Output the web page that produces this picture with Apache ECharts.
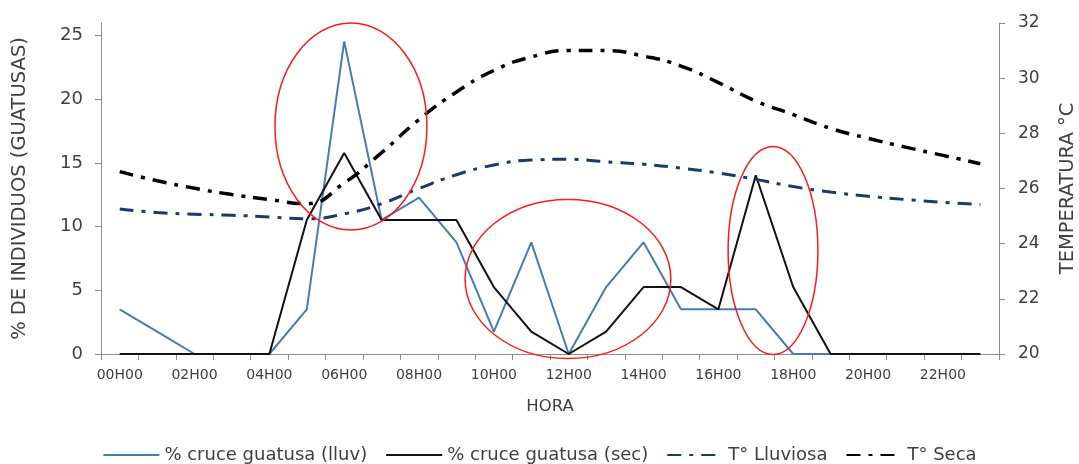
<!DOCTYPE html>
<html><head><meta charset="utf-8">
<script src="https://cdn.jsdelivr.net/npm/echarts@6/dist/echarts.min.js"></script>
<style>html,body{margin:0;padding:0;background:#fff}#c{width:1079px;height:464px}</style>
</head><body><div id="c"></div>
<script>
// ---- data ----
const hours = ['00H00','01H00','02H00','03H00','04H00','05H00','06H00','07H00','08H00','09H00','10H00','11H00',
               '12H00','13H00','14H00','15H00','16H00','17H00','18H00','19H00','20H00','21H00','22H00','23H00'];
const cruceLluv = [3.51,1.75,0,0,0,3.51,24.56,10.53,12.28,8.77,1.75,8.77,0,5.26,8.77,3.51,3.51,3.51,0,0,0,0,0,0];
const cruceSec  = [0,0,0,0,0,10.53,15.79,10.53,10.53,10.53,5.26,1.75,0,1.75,5.26,5.26,3.51,14.04,5.26,0,0,0,0,0];
const tLluviosa = [25.26,25.13,25.07,25.03,24.97,24.9,25.08,25.45,26.0,26.5,26.85,27.03,27.06,26.97,26.88,26.74,26.56,26.33,26.07,25.87,25.72,25.6,25.5,25.42];
const tSeca     = [26.61,26.28,26.01,25.78,25.6,25.45,26.2,27.3,28.5,29.5,30.28,30.77,31.0,31.0,30.8,30.44,29.84,29.17,28.68,28.18,27.82,27.5,27.2,26.9];
const leftTicks = [0,5,10,15,20,25];
const seriesNames = ['% cruce guatusa (lluv)','% cruce guatusa (sec)','T° Lluviosa','T° Seca'];
// annotation ellipses in data units: [category index, left-axis value, radius in categories, radius in %]
const highlights = [[6.18,17.87,2.03,8.13],[11.98,5.89,2.75,6.25],[17.46,8.13,1.2,8.17]];

const FONT = 'DejaVu Sans';
const TXT = '#404040';
const AX = '#8c8c8c';
const dashDot = [14, 8, 4, 8];

const chart = echarts.init(document.getElementById('c'), null, {renderer:'canvas'});
chart.setOption({
  animation: false,
  backgroundColor: '#fff',
  grid: {left: 101, right: 80, top: 23, bottom: 110, outerBoundsMode: 'none', containLabel: false},
  legend: {
    data: seriesNames, left: 'center', top: 441, itemWidth: 56, itemHeight: 14, itemGap: 18,
    itemStyle: {opacity: 0, borderWidth: 0},
    textStyle: {fontFamily: FONT, fontSize: 18, color: TXT}
  },
  xAxis: {
    type: 'category', data: hours, boundaryGap: true,
    axisLine: {show: true, lineStyle: {color: AX, width: 1}},
    axisTick: {show: true, interval: 0, length: 6, lineStyle: {color: AX}},
    axisLabel: {interval: 1, fontFamily: FONT, fontSize: 14, color: TXT, margin: 14},
    splitLine: {show: false},
    name: 'HORA', nameLocation: 'middle', nameGap: 44,
    nameTextStyle: {fontFamily: FONT, fontSize: 16.5, color: TXT}
  },
  yAxis: [{
    type: 'value', min: 0, max: 26, interval: 5, position: 'left',
    axisLine: {show: true, lineStyle: {color: AX, width: 1}},
    axisTick: {show: true, length: 6, customValues: leftTicks, lineStyle: {color: AX}},
    axisLabel: {customValues: leftTicks, fontFamily: FONT, fontSize: 18, color: TXT, margin: 18},
    splitLine: {show: false},
    name: '% DE INDIVIDUOS (GUATUSAS)', nameLocation: 'middle', nameRotate: 90, nameGap: 71,
    nameTextStyle: {fontFamily: FONT, fontSize: 19.5, color: TXT}
  }, {
    type: 'value', min: 20, max: 32, interval: 2, position: 'right',
    axisLine: {show: true, lineStyle: {color: AX, width: 1}},
    axisTick: {show: true, length: 6, lineStyle: {color: AX}},
    axisLabel: {fontFamily: FONT, fontSize: 17, color: TXT, margin: 19},
    splitLine: {show: false},
    name: 'TEMPERATURA °C', nameLocation: 'middle', nameRotate: 90, nameGap: 59,
    nameTextStyle: {fontFamily: FONT, fontSize: 19.5, color: TXT}
  }],
  series: [
    {name: seriesNames[0], type: 'line', yAxisIndex: 0, data: cruceLluv, symbol: 'none', z: 2,
     lineStyle: {color: '#4a7ab4', width: 2}, itemStyle: {color: '#4a7ab4'}},
    {name: seriesNames[1], type: 'line', yAxisIndex: 0, data: cruceSec, symbol: 'none', z: 3,
     lineStyle: {color: '#111', width: 2}, itemStyle: {color: '#111'}},
    {name: seriesNames[2], type: 'line', yAxisIndex: 1, data: tLluviosa, symbol: 'none', smooth: true, z: 4,
     lineStyle: {color: '#1d3a66', width: 3, type: dashDot, cap: 'butt'}, itemStyle: {color: '#1d3a66'}},
    {name: seriesNames[3], type: 'line', yAxisIndex: 1, data: tSeca, symbol: 'none', smooth: true, z: 4,
     lineStyle: {color: '#000', width: 3.5, type: dashDot, cap: 'butt'}, itemStyle: {color: '#000'}}
  ]
});

// red highlight ellipses, positioned through the axes
const p0 = chart.convertToPixel({xAxisIndex: 0, yAxisIndex: 0}, [0, 0]);
const p1 = chart.convertToPixel({xAxisIndex: 0, yAxisIndex: 0}, [1, 10]);
const sx = p1[0] - p0[0], sy = (p0[1] - p1[1]) / 10;
chart.setOption({
  graphic: highlights.map(h => ({
    type: 'ellipse', z: 100, silent: true,
    shape: {cx: p0[0] + h[0] * sx, cy: p0[1] - h[1] * sy, rx: h[2] * sx, ry: h[3] * sy},
    style: {fill: null, stroke: '#ff1a1a', lineWidth: 1.5}
  }))
});
</script></body></html>
